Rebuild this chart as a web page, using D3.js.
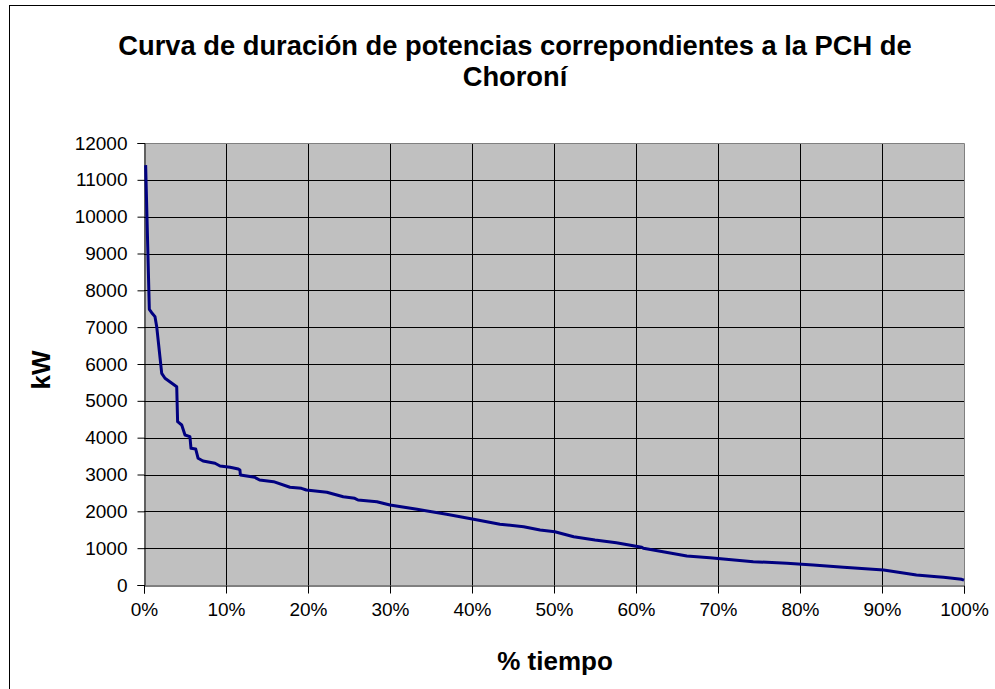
<!DOCTYPE html>
<html><head><meta charset="utf-8">
<script src="https://cdn.jsdelivr.net/npm/d3@7"></script>
<style>html,body{margin:0;padding:0;background:#fff;}svg{display:block;}</style>
</head><body>
<svg id="chart" width="995" height="689"></svg>
<script>
const timePct = [0.2,0.65,0.94,1.34,1.55,2.16,2.56,3.99,4.1,4.6,5.0,5.6,5.73,6.3,6.6,7.2,8.66,9.27,10.5,11.5,11.7,11.75,13.5,14.1,15.8,17.8,19.2,19.8,22.3,24.3,25.7,26.1,28.4,30,33.3,36.9,40.2,43.4,46.3,48.3,50.1,52.4,55,57.6,60.7,60.9,63.3,66.2,69,74.3,78.4,81.6,85.3,90.2,94.2,96.7,97.5,99.7,100];
const powerKW = [11400,7485,7393,7285,7014,5747,5612,5384,4434,4344,4073,4027,3711,3693,3440,3367,3304,3231,3196,3150,3122,2987,2924,2851,2805,2653,2625,2579,2517,2397,2354,2308,2262,2172,2055,1920,1784,1648,1583,1493,1447,1312,1222,1149,1024,996,904,787,741,633,589,543,481,407,272,225,209,155,130];
const yTicks = [0,1000,2000,3000,4000,5000,6000,7000,8000,9000,10000,11000,12000];
const xTicks = [0,10,20,30,40,50,60,70,80,90,100];
const titleLines = ["Curva de duración de potencias correpondientes a la PCH de","Choroní"];
const xTitle = "% tiempo";
const yTitle = "kW";

const svg = d3.select("#chart");
const font = "'Liberation Sans', Arial, sans-serif";
const L = 144, R = 964, T = 143, B = 585;

svg.append("rect").attr("x",9.5).attr("y",5.5).attr("width",1000).attr("height",700)
  .attr("fill","#fff").attr("stroke","#000").attr("stroke-width",1);

const x = d3.scaleLinear().domain([0,100]).range([L,R]);
const y = d3.scaleLinear().domain([0,12000]).range([B,T]);

svg.append("rect").attr("x",L).attr("y",T).attr("width",R-L).attr("height",B-T).attr("fill","#C0C0C0");

// gridlines
svg.append("g").selectAll("line").data(yTicks.slice(1,-1)).join("line")
  .attr("x1",L).attr("x2",R).attr("y1",d=>Math.round(y(d))+0.5).attr("y2",d=>Math.round(y(d))+0.5)
  .attr("stroke","#000").attr("stroke-width",1);
svg.append("g").selectAll("line").data(xTicks.slice(1,-1)).join("line")
  .attr("y1",T).attr("y2",B).attr("x1",d=>Math.round(x(d))+0.5).attr("x2",d=>Math.round(x(d))+0.5)
  .attr("stroke","#000").attr("stroke-width",1);
// plot border top/right
svg.append("path").attr("d",`M${L},${T+0.5}H${R+0.5}V${B}`).attr("fill","none").attr("stroke","#808080");

// axes
const yAxis = d3.axisLeft(y).tickValues(yTicks).tickSize(7).tickPadding(10).tickFormat(d3.format("d"));
const gy = svg.append("g").attr("transform",`translate(${L+0.5},0)`).call(yAxis);
gy.select(".domain").attr("stroke","#000");
gy.selectAll(".tick line").attr("stroke","#000");
gy.selectAll("text").attr("font-family",font).attr("font-size","19px").attr("fill","#000");

const xAxis = d3.axisBottom(x).tickValues(xTicks).tickSize(8).tickPadding(9).tickFormat(d=>d+"%");
const gx = svg.append("g").attr("transform",`translate(0,${B+0.5})`).call(xAxis);
gx.select(".domain").attr("stroke","#000");
gx.selectAll(".tick line").attr("stroke","#000");
gx.selectAll("text").attr("font-family",font).attr("font-size","19px").attr("fill","#000");

// line
const line = d3.line().x((d,i)=>x(timePct[i])).y(d=>y(d));
svg.append("path").datum(powerKW).attr("d",line).attr("fill","none")
  .attr("stroke","#000080").attr("stroke-width",3).attr("stroke-linejoin","round");

// titles
svg.append("g").selectAll("text").data(titleLines).join("text")
  .attr("x",515).attr("y",(d,i)=>55+i*31).attr("text-anchor","middle")
  .attr("font-family",font).attr("font-weight","bold").attr("font-size","27.3px").text(d=>d);
svg.append("text").attr("x",555).attr("y",670).attr("text-anchor","middle")
  .attr("font-family",font).attr("font-weight","bold").attr("font-size","26px").text(xTitle);
svg.append("text").attr("transform","translate(50,370) rotate(-90)").attr("text-anchor","middle")
  .attr("font-family",font).attr("font-weight","bold").attr("font-size","26px").text(yTitle);
</script>
</body></html>
